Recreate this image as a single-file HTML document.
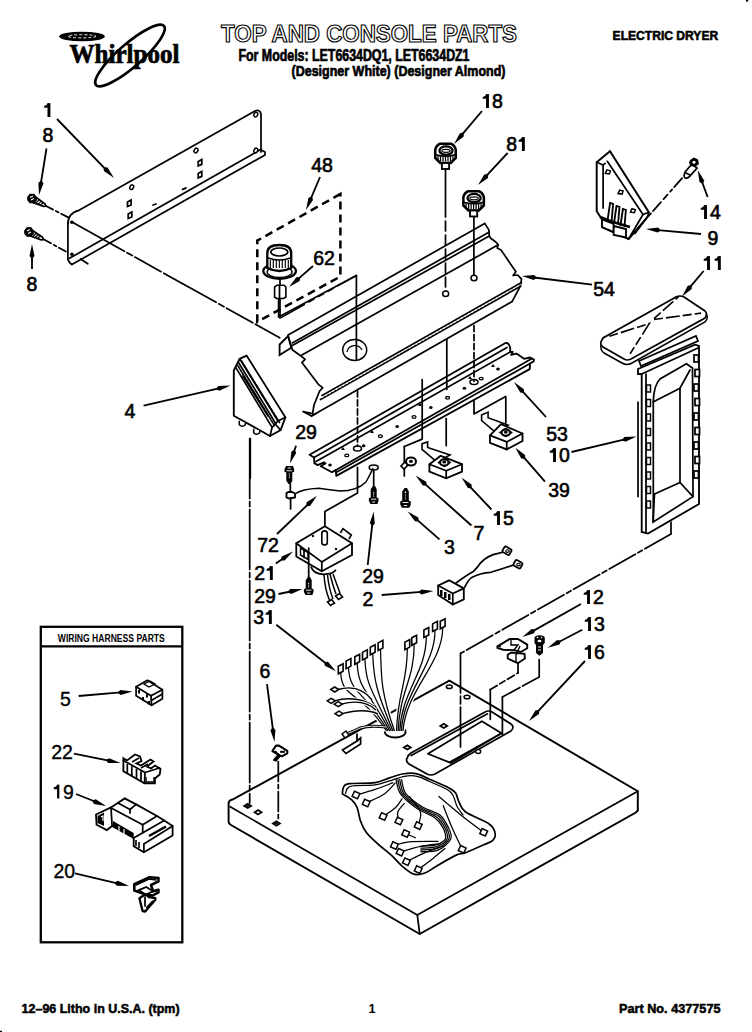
<!DOCTYPE html>
<html><head><meta charset="utf-8">
<style>
html,body{margin:0;padding:0;background:#fff;}
svg{display:block;}
text{font-family:"Liberation Sans",sans-serif;}
.l{font-size:19.5px;font-weight:normal;text-anchor:middle;fill:#000;stroke:#000;stroke-width:0.6;}
.r{stroke-width:0.35;}
.s{stroke:#000;stroke-width:1.72;fill:none;stroke-linecap:round;stroke-linejoin:round;}
.t{stroke:#000;stroke-width:1;fill:none;stroke-linejoin:round;}
.w{stroke:#000;stroke-width:1.3;fill:#fff;stroke-linejoin:round;}
.d{stroke:#000;stroke-width:1.3;fill:none;stroke-dasharray:9 5;}
.dd{stroke:#000;stroke-width:2.2;fill:none;stroke-dasharray:8 7;}
</style></head><body>
<svg width="752" height="1032" viewBox="0 0 752 1032">
<rect width="752" height="1032" fill="#fff"/>
<g id="logo">
  <ellipse cx="82" cy="36.5" rx="22.8" ry="4.8" fill="#000"/>
  <ellipse cx="82" cy="36.3" rx="14" ry="1.6" fill="none" stroke="#fff" stroke-width="0.92" stroke-dasharray="3 2"/>
  <text x="69.5" y="62.5" style="font-family:'Liberation Serif',serif;font-weight:bold;font-size:27px;stroke:#000;stroke-width:0.7" textLength="110" lengthAdjust="spacingAndGlyphs">Whirlpool</text>
  <ellipse cx="130" cy="55.5" rx="45" ry="11.5" transform="rotate(-41 130 55.5)" fill="none" stroke="#000" stroke-width="2.64"/>
</g>
<text x="221" y="42" font-size="23.5" font-weight="bold" fill="#fff" stroke="#000" stroke-width="1.15" textLength="296" lengthAdjust="spacingAndGlyphs">TOP AND CONSOLE PARTS</text>
<text x="238.5" y="61" font-size="16" font-weight="bold" stroke="#000" stroke-width="0.69" textLength="231" lengthAdjust="spacingAndGlyphs">For Models: LET6634DQ1, LET6634DZ1</text>
<text x="291.5" y="75.5" font-size="15" font-weight="bold" stroke="#000" stroke-width="0.69" textLength="214" lengthAdjust="spacingAndGlyphs">(Designer White) (Designer Almond)</text>
<text x="612.6" y="39.8" font-size="13" font-weight="bold" stroke="#000" stroke-width="0.57" textLength="105.6" lengthAdjust="spacingAndGlyphs">ELECTRIC DRYER</text>
<text x="21.6" y="1012.5" font-size="12.8" font-weight="bold" stroke="#000" stroke-width="0.52" textLength="158" lengthAdjust="spacingAndGlyphs">12–96 Litho in U.S.A. (tpm)</text>
<text x="372" y="1012.5" font-size="12.8" font-weight="bold" text-anchor="middle">1</text>
<text x="619" y="1012.5" font-size="12.8" font-weight="bold" stroke="#000" stroke-width="0.52" textLength="101.5" lengthAdjust="spacingAndGlyphs">Part No. 4377575</text>

<rect x="47.48" y="103.10" width="2.9" height="13.9" fill="#000"/>
<path d="M44.18,106.00 Q46.78,105.50 47.78,103.10 L47.78,107.70 L44.18,107.70 Z" fill="#000"/>
<text x="48.00" y="142.0" class="l">8</text>
<text x="32.00" y="291.0" class="l">8</text>
<text x="316.58" y="172.0" class="l">4</text>
<text x="327.42" y="172.0" class="l">8</text>
<text x="318.58" y="265.0" class="l">6</text>
<text x="329.42" y="265.0" class="l">2</text>
<rect x="486.06" y="94.10" width="2.9" height="13.9" fill="#000"/>
<path d="M482.76,97.00 Q485.36,96.50 486.36,94.10 L486.36,98.70 L482.76,98.70 Z" fill="#000"/>
<text x="497.42" y="108.0" class="l">8</text>
<text x="511.58" y="151.0" class="l">8</text>
<rect x="521.90" y="137.10" width="2.9" height="13.9" fill="#000"/>
<path d="M518.60,140.00 Q521.20,139.50 522.20,137.10 L522.20,141.70 L518.60,141.70 Z" fill="#000"/>
<rect x="704.06" y="205.10" width="2.9" height="13.9" fill="#000"/>
<path d="M700.76,208.00 Q703.36,207.50 704.36,205.10 L704.36,209.70 L700.76,209.70 Z" fill="#000"/>
<text x="715.42" y="219.0" class="l">4</text>
<text x="713.00" y="245.0" class="l">9</text>
<rect x="707.06" y="256.10" width="2.9" height="13.9" fill="#000"/>
<path d="M703.76,259.00 Q706.36,258.50 707.36,256.10 L707.36,260.70 L703.76,260.70 Z" fill="#000"/>
<rect x="717.90" y="256.10" width="2.9" height="13.9" fill="#000"/>
<path d="M714.60,259.00 Q717.20,258.50 718.20,256.10 L718.20,260.70 L714.60,260.70 Z" fill="#000"/>
<text x="598.58" y="296.0" class="l">5</text>
<text x="609.42" y="296.0" class="l">4</text>
<text x="130.00" y="418.0" class="l">4</text>
<text x="300.58" y="439.0" class="l">2</text>
<text x="311.42" y="439.0" class="l">9</text>
<text x="551.58" y="441.0" class="l">5</text>
<text x="562.42" y="441.0" class="l">3</text>
<rect x="553.06" y="448.10" width="2.9" height="13.9" fill="#000"/>
<path d="M549.76,451.00 Q552.36,450.50 553.36,448.10 L553.36,452.70 L549.76,452.70 Z" fill="#000"/>
<text x="564.42" y="462.0" class="l">0</text>
<text x="553.58" y="497.0" class="l">3</text>
<text x="564.42" y="497.0" class="l">9</text>
<rect x="497.06" y="511.10" width="2.9" height="13.9" fill="#000"/>
<path d="M493.76,514.00 Q496.36,513.50 497.36,511.10 L497.36,515.70 L493.76,515.70 Z" fill="#000"/>
<text x="508.42" y="525.0" class="l">5</text>
<text x="479.00" y="540.0" class="l">7</text>
<text x="449.50" y="554.0" class="l">3</text>
<text x="262.58" y="552.0" class="l">7</text>
<text x="273.42" y="552.0" class="l">2</text>
<text x="259.58" y="580.0" class="l">2</text>
<rect x="269.90" y="566.10" width="2.9" height="13.9" fill="#000"/>
<path d="M266.60,569.00 Q269.20,568.50 270.20,566.10 L270.20,570.70 L266.60,570.70 Z" fill="#000"/>
<text x="259.58" y="602.5" class="l">2</text>
<text x="270.42" y="602.5" class="l">9</text>
<text x="367.58" y="583.0" class="l">2</text>
<text x="378.42" y="583.0" class="l">9</text>
<text x="368.00" y="606.0" class="l">2</text>
<text x="258.58" y="624.0" class="l">3</text>
<rect x="268.90" y="610.10" width="2.9" height="13.9" fill="#000"/>
<path d="M265.60,613.00 Q268.20,612.50 269.20,610.10 L269.20,614.70 L265.60,614.70 Z" fill="#000"/>
<rect x="587.06" y="590.10" width="2.9" height="13.9" fill="#000"/>
<path d="M583.76,593.00 Q586.36,592.50 587.36,590.10 L587.36,594.70 L583.76,594.70 Z" fill="#000"/>
<text x="598.42" y="604.0" class="l">2</text>
<rect x="588.06" y="617.10" width="2.9" height="13.9" fill="#000"/>
<path d="M584.76,620.00 Q587.36,619.50 588.36,617.10 L588.36,621.70 L584.76,621.70 Z" fill="#000"/>
<text x="599.42" y="631.0" class="l">3</text>
<rect x="588.06" y="645.10" width="2.9" height="13.9" fill="#000"/>
<path d="M584.76,648.00 Q587.36,647.50 588.36,645.10 L588.36,649.70 L584.76,649.70 Z" fill="#000"/>
<text x="599.42" y="659.0" class="l">6</text>
<text x="265.00" y="678.0" class="l">6</text>
<text x="65.50" y="706.0" class="l r">5</text>
<text x="56.58" y="759.0" class="l r">2</text>
<text x="67.42" y="759.0" class="l r">2</text>
<rect x="57.06" y="784.60" width="2.3" height="13.9" fill="#000"/>
<path d="M53.76,787.50 Q56.36,787.00 57.36,784.60 L57.36,789.20 L53.76,789.20 Z" fill="#000"/>
<text x="68.42" y="798.5" class="l r">9</text>
<text x="58.88" y="877.5" class="l r">2</text>
<text x="69.72" y="877.5" class="l r">0</text>
<line x1="57.0" y1="119.0" x2="105.7" y2="169.4" stroke="#000" stroke-width="1.84"/>
<path d="M114.0,178.0 L103.9,171.1 L103.6,167.2 L107.5,167.6Z" fill="#000"/>
<line x1="46.5" y1="148.5" x2="40.9" y2="183.2" stroke="#000" stroke-width="1.84"/>
<path d="M39.0,195.0 L38.4,182.8 L41.4,180.2 L43.4,183.6Z" fill="#000"/>
<line x1="32.0" y1="269.0" x2="32.0" y2="256.0" stroke="#000" stroke-width="1.84"/>
<path d="M32.0,244.0 L34.5,256.0 L32.0,259.0 L29.5,256.0Z" fill="#000"/>
<line x1="320.0" y1="177.0" x2="310.7" y2="199.0" stroke="#000" stroke-width="1.84"/>
<path d="M306.0,210.0 L308.4,198.0 L311.9,196.2 L313.0,199.9Z" fill="#000"/>
<line x1="313.0" y1="266.0" x2="298.0" y2="279.1" stroke="#000" stroke-width="1.84"/>
<path d="M289.0,287.0 L296.4,277.2 L300.3,277.1 L299.7,281.0Z" fill="#000"/>
<line x1="482.0" y1="111.0" x2="461.8" y2="134.8" stroke="#000" stroke-width="1.84"/>
<path d="M454.0,144.0 L459.9,133.2 L463.7,132.6 L463.7,136.5Z" fill="#000"/>
<line x1="507.6" y1="153.0" x2="486.1" y2="176.2" stroke="#000" stroke-width="1.84"/>
<path d="M478.0,185.0 L484.3,174.5 L488.2,174.0 L488.0,177.9Z" fill="#000"/>
<line x1="707.6" y1="197.0" x2="701.8" y2="181.3" stroke="#000" stroke-width="1.84"/>
<path d="M697.7,170.0 L704.2,180.4 L702.9,184.1 L699.5,182.1Z" fill="#000"/>
<line x1="701.0" y1="234.0" x2="658.0" y2="230.1" stroke="#000" stroke-width="1.84"/>
<path d="M646.0,229.0 L658.2,227.6 L660.9,230.4 L657.7,232.6Z" fill="#000"/>
<line x1="703.6" y1="271.0" x2="689.8" y2="287.3" stroke="#000" stroke-width="1.84"/>
<path d="M682.0,296.5 L687.8,285.7 L691.7,285.1 L691.7,289.0Z" fill="#000"/>
<line x1="592.0" y1="284.6" x2="533.9" y2="277.5" stroke="#000" stroke-width="1.84"/>
<path d="M522.0,276.0 L534.2,275.0 L536.9,277.8 L533.6,279.9Z" fill="#000"/>
<line x1="143.6" y1="405.6" x2="218.8" y2="388.3" stroke="#000" stroke-width="1.84"/>
<path d="M230.5,385.6 L219.4,390.7 L215.9,389.0 L218.2,385.9Z" fill="#000"/>
<line x1="296.0" y1="445.7" x2="293.8" y2="452.2" stroke="#000" stroke-width="1.84"/>
<path d="M290.0,463.6 L291.4,451.4 L294.8,449.4 L296.2,453.0Z" fill="#000"/>
<line x1="546.0" y1="417.0" x2="522.1" y2="390.9" stroke="#000" stroke-width="1.84"/>
<path d="M514.0,382.0 L523.9,389.2 L524.1,393.1 L520.3,392.5Z" fill="#000"/>
<line x1="571.5" y1="452.0" x2="624.9" y2="439.4" stroke="#000" stroke-width="1.84"/>
<path d="M636.6,436.6 L625.5,441.8 L622.0,440.1 L624.3,436.9Z" fill="#000"/>
<line x1="545.0" y1="481.6" x2="523.2" y2="456.7" stroke="#000" stroke-width="1.84"/>
<path d="M515.3,447.7 L525.1,455.1 L525.2,459.0 L521.3,458.4Z" fill="#000"/>
<line x1="491.4" y1="509.5" x2="469.7" y2="486.4" stroke="#000" stroke-width="1.84"/>
<path d="M461.5,477.6 L471.5,484.6 L471.8,488.5 L467.9,488.1Z" fill="#000"/>
<line x1="471.4" y1="525.5" x2="424.5" y2="483.6" stroke="#000" stroke-width="1.84"/>
<path d="M415.6,475.6 L426.2,481.7 L426.8,485.6 L422.9,485.5Z" fill="#000"/>
<line x1="439.5" y1="539.4" x2="416.6" y2="519.4" stroke="#000" stroke-width="1.84"/>
<path d="M407.6,511.5 L418.3,517.5 L418.9,521.4 L415.0,521.3Z" fill="#000"/>
<line x1="277.0" y1="534.0" x2="308.3" y2="504.1" stroke="#000" stroke-width="1.84"/>
<path d="M317.0,495.8 L310.0,505.9 L306.2,506.2 L306.6,502.3Z" fill="#000"/>
<line x1="275.8" y1="563.6" x2="283.2" y2="558.5" stroke="#000" stroke-width="1.84"/>
<path d="M293.0,551.6 L284.6,560.5 L280.7,560.2 L281.7,556.4Z" fill="#000"/>
<line x1="278.5" y1="594.0" x2="290.7" y2="591.5" stroke="#000" stroke-width="1.84"/>
<path d="M302.4,589.0 L291.2,593.9 L287.7,592.1 L290.1,589.0Z" fill="#000"/>
<line x1="367.7" y1="565.0" x2="372.4" y2="523.4" stroke="#000" stroke-width="1.84"/>
<path d="M373.7,511.5 L374.8,523.7 L372.0,526.4 L369.9,523.1Z" fill="#000"/>
<line x1="381.7" y1="595.0" x2="421.5" y2="591.9" stroke="#000" stroke-width="1.84"/>
<path d="M433.5,591.0 L421.7,594.4 L418.5,592.2 L421.3,589.4Z" fill="#000"/>
<line x1="276.3" y1="624.7" x2="326.4" y2="663.8" stroke="#000" stroke-width="1.84"/>
<path d="M335.9,671.2 L324.9,665.8 L324.1,662.0 L328.0,661.8Z" fill="#000"/>
<line x1="581.0" y1="604.0" x2="532.9" y2="631.1" stroke="#000" stroke-width="1.84"/>
<path d="M522.4,637.0 L531.6,628.9 L535.5,629.6 L534.1,633.3Z" fill="#000"/>
<line x1="582.3" y1="629.7" x2="558.3" y2="642.2" stroke="#000" stroke-width="1.84"/>
<path d="M547.7,647.8 L557.2,640.0 L561.0,640.8 L559.5,644.5Z" fill="#000"/>
<line x1="585.0" y1="661.0" x2="537.2" y2="712.2" stroke="#000" stroke-width="1.84"/>
<path d="M529.0,721.0 L535.4,710.5 L539.2,710.0 L539.0,713.9Z" fill="#000"/>
<line x1="267.0" y1="684.2" x2="273.0" y2="730.1" stroke="#000" stroke-width="1.84"/>
<path d="M274.5,742.0 L270.5,730.4 L272.6,727.1 L275.4,729.8Z" fill="#000"/>
<line x1="78.6" y1="696.0" x2="120.5" y2="692.4" stroke="#000" stroke-width="1.84"/>
<path d="M132.5,691.4 L120.8,694.9 L117.6,692.7 L120.3,689.9Z" fill="#000"/>
<line x1="73.9" y1="753.6" x2="108.7" y2="760.6" stroke="#000" stroke-width="1.84"/>
<path d="M120.5,763.0 L108.2,763.1 L105.8,760.0 L109.2,758.2Z" fill="#000"/>
<line x1="76.0" y1="794.0" x2="94.9" y2="801.5" stroke="#000" stroke-width="1.84"/>
<path d="M106.0,806.0 L93.9,803.9 L92.1,800.4 L95.8,799.2Z" fill="#000"/>
<line x1="75.0" y1="873.4" x2="117.3" y2="883.3" stroke="#000" stroke-width="1.84"/>
<path d="M129.0,886.0 L116.7,885.7 L114.4,882.6 L117.9,880.8Z" fill="#000"/>
<rect x="40.8" y="626.8" width="141.5" height="315.5" fill="none" stroke="#000" stroke-width="2.30"/>
<line x1="40.8" y1="646.4" x2="182.3" y2="646.4" stroke="#000" stroke-width="2.30"/>
<text x="57.8" y="642.3" font-size="10.5" font-weight="bold" textLength="107" lengthAdjust="spacingAndGlyphs">WIRING HARNESS PARTS</text>
<path d="M67.9,224 Q67.9,213 79,210.3 L255,111 Q260,109 261,114 L261,152" class="s"/>
<path d="M67.9,222.0 L67.9,259.8 L70.0,263.0 L71.9,264.6 L265.0,155.0 L265.0,152.0 L261.0,150.0" class="s" />
<path d="M69.5,258.3 L261.0,149.3" class="s" />
<circle cx="71.9" cy="222.3" r="1.8" fill="#000"/>
<circle cx="71.9" cy="254.2" r="1.8" fill="#000"/>
<path d="M33.2,202.6 L43.5,206.4 L46.0,206.0 L44.9,203.7 L36.1,197.3Z" fill="#fff" stroke="#000" stroke-width="1.72"/>
<line x1="35.6" y1="203.3" x2="39.4" y2="199.6" stroke="#000" stroke-width="1.26"/>
<line x1="38.1" y1="204.1" x2="41.4" y2="201.1" stroke="#000" stroke-width="1.26"/>
<line x1="40.5" y1="204.9" x2="43.4" y2="202.7" stroke="#000" stroke-width="1.26"/>
<path d="M27.8,197.0 L30.0,194.3 L34.0,194.3 L36.2,197.5 L36.2,200.5 L33.5,202.7 L30.0,202.7 L27.8,200.0Z" fill="#000" stroke="#000" stroke-width="1.15"/>
<path d="M30.0,197.5 L33.0,196.0 M31.0,200.0 L34.0,198.5" stroke="#fff" stroke-width="1.03"/>
<path d="M30.3,236.0 L41.0,239.9 L43.5,239.5 L42.4,237.2 L33.0,230.7Z" fill="#fff" stroke="#000" stroke-width="1.72"/>
<line x1="32.7" y1="236.8" x2="36.4" y2="233.0" stroke="#000" stroke-width="1.26"/>
<line x1="35.1" y1="237.5" x2="38.4" y2="234.5" stroke="#000" stroke-width="1.26"/>
<line x1="37.6" y1="238.3" x2="40.4" y2="236.0" stroke="#000" stroke-width="1.26"/>
<path d="M24.8,230.5 L27.0,227.8 L31.0,227.8 L33.2,231.0 L33.2,234.0 L30.5,236.2 L27.0,236.2 L24.8,233.5Z" fill="#000" stroke="#000" stroke-width="1.15"/>
<path d="M27.0,231.0 L30.0,229.5 M28.0,233.5 L31.0,232.0" stroke="#fff" stroke-width="1.03"/>
<path d="M46,206 L69.5,218" class="s" stroke-dasharray="8 3 3 3"/>
<path d="M44,239.5 L66.3,251.8" class="s" stroke-dasharray="8 3 3 3"/>
<path d="M72,222 L279.7,337.8" class="s" stroke-dasharray="60 3 6 3 30 3"/>
<path d="M80.6,259.0 L87.8,263.8" class="s" />
<ellipse cx="131.7" cy="187.2" rx="1.8" ry="2.4" transform="rotate(30 131.7 187.2)" fill="#fff" stroke="#000" stroke-width="1.49"/>
<ellipse cx="196" cy="150.5" rx="1.8" ry="2.4" transform="rotate(30 196 150.5)" fill="#fff" stroke="#000" stroke-width="1.49"/>
<ellipse cx="255.8" cy="114.6" rx="1.8" ry="2.4" transform="rotate(30 255.8 114.6)" fill="#fff" stroke="#000" stroke-width="1.49"/>
<ellipse cx="255.8" cy="150.5" rx="1.8" ry="2.4" transform="rotate(30 255.8 150.5)" fill="#fff" stroke="#000" stroke-width="1.49"/>
<path d="M127.50000000000001,202 L131.10000000000002,200 L131.10000000000002,205 L127.50000000000001,206.5 Z" fill="#fff" stroke="#000" stroke-width="1.72"/>
<path d="M128.2,214 L131.8,212 L131.8,217 L128.2,218.5 Z" fill="#fff" stroke="#000" stroke-width="1.72"/>
<path d="M198.2,161.4 L201.8,159.4 L201.8,164.4 L198.2,165.9 Z" fill="#fff" stroke="#000" stroke-width="1.72"/>
<path d="M198.2,173.4 L201.8,171.4 L201.8,176.4 L198.2,177.9 Z" fill="#fff" stroke="#000" stroke-width="1.72"/>
<path d="M153.0,205.0 L156.0,204.0" class="s" />
<path d="M182.5,189.5 L185.0,188.5" class="s" />
<path d="M183.0,189.0 L186.0,188.0" class="s" />
<path d="M435.25,149.8 Q436.25,145.3 440.25,143.8 L450.75,143.8 Q454.75,145.3 455.75,149.8 L455.75,158.0 L450.75,163.0 L440.25,163.0 L435.25,158.0Z" fill="#fff" stroke="#000" stroke-width="2.53"/>
<ellipse cx="446.0" cy="150.60000000000002" rx="6.6" ry="4.2" fill="none" stroke="#000" stroke-width="2.30"/>
<ellipse cx="446.0" cy="150.8" rx="4.2" ry="1.5" fill="none" stroke="#000" stroke-width="1.15"/>
<path d="M435.75,154.8 Q445.5,157.3 455.25,154.8" fill="none" stroke="#000" stroke-width="1.84"/>
<line x1="438.0" y1="156.3" x2="438.0" y2="161.5" stroke="#000" stroke-width="1.26"/>
<line x1="440.5" y1="156.3" x2="440.5" y2="161.5" stroke="#000" stroke-width="1.26"/>
<line x1="443.0" y1="156.3" x2="443.0" y2="161.5" stroke="#000" stroke-width="1.26"/>
<line x1="445.5" y1="156.3" x2="445.5" y2="161.5" stroke="#000" stroke-width="1.26"/>
<line x1="448.0" y1="156.3" x2="448.0" y2="161.5" stroke="#000" stroke-width="1.26"/>
<line x1="450.5" y1="156.3" x2="450.5" y2="161.5" stroke="#000" stroke-width="1.26"/>
<line x1="453.0" y1="156.3" x2="453.0" y2="161.5" stroke="#000" stroke-width="1.26"/>
<rect x="441.9" y="163.0" width="7.2" height="6" fill="#fff" stroke="#000" stroke-width="1.84"/>
<path d="M463.35,197.3 Q464.35,192.8 468.35,191.3 L478.85,191.3 Q482.85,192.8 483.85,197.3 L483.85,205.5 L478.85,210.5 L468.35,210.5 L463.35,205.5Z" fill="#fff" stroke="#000" stroke-width="2.53"/>
<ellipse cx="474.1" cy="198.10000000000002" rx="6.6" ry="4.2" fill="none" stroke="#000" stroke-width="2.30"/>
<ellipse cx="474.1" cy="198.3" rx="4.2" ry="1.5" fill="none" stroke="#000" stroke-width="1.15"/>
<path d="M463.85,202.3 Q473.6,204.8 483.35,202.3" fill="none" stroke="#000" stroke-width="1.84"/>
<line x1="466.1" y1="203.8" x2="466.1" y2="209.0" stroke="#000" stroke-width="1.26"/>
<line x1="468.6" y1="203.8" x2="468.6" y2="209.0" stroke="#000" stroke-width="1.26"/>
<line x1="471.1" y1="203.8" x2="471.1" y2="209.0" stroke="#000" stroke-width="1.26"/>
<line x1="473.6" y1="203.8" x2="473.6" y2="209.0" stroke="#000" stroke-width="1.26"/>
<line x1="476.1" y1="203.8" x2="476.1" y2="209.0" stroke="#000" stroke-width="1.26"/>
<line x1="478.6" y1="203.8" x2="478.6" y2="209.0" stroke="#000" stroke-width="1.26"/>
<line x1="481.1" y1="203.8" x2="481.1" y2="209.0" stroke="#000" stroke-width="1.26"/>
<rect x="470.0" y="210.5" width="7.2" height="6" fill="#fff" stroke="#000" stroke-width="1.84"/>
<path d="M445.5,169.0 L445.5,217.0" class="s" />
<path d="M445.5,221.0 L445.5,291.3" class="s" stroke-dasharray="10 4" stroke-width="1.15"/>
<path d="M473.9,217.0 L473.9,275.5" class="s" stroke-width="2.07"/>
<path d="M279.6,344.5 L288.1,336 L291.3,347.7 L279.6,355.1 Z" fill="#fff" stroke="#000" stroke-width="1.84"/>
<path d="M288.1,336.0 L292.3,349.8 L301.9,356.7 L305.1,359.4 L301.9,362.6 L318.9,384.9 L322.7,387.6 L319.5,391.3 L314.0,405.0 L312.6,413.6 L303.0,411.5 L311.5,416.0 L316.0,413.5" class="s" stroke-width="1.84"/>
<path d="M288.1,335.0 L484.7,223.4" class="s" stroke-width="1.72"/>
<path d="M292.3,342.9 L488.9,232.2" class="s" />
<path d="M292.3,345.5 L489.3,236.0" class="s" />
<path d="M301.9,355.1 L498.2,244.8" class="s" stroke-width="1.72"/>
<path d="M484.7,223.4 L488.9,229.9 L489.3,236.0 L490.7,238.3 L495.8,242.0 L498.2,244.8 L497.2,248.0 L501.0,249.9 L515.9,271.8 L513.1,275.5 L517.7,275.0 L521.5,279.2 L520.5,285.8 L512.1,301.6" class="s" stroke-width="1.84"/>
<path d="M322.1,395.5 L521.5,282.5" class="s" stroke-width="1.84"/>
<path d="M320.5,399.5 L520.5,286.2" class="s" stroke-width="1.84"/>
<path d="M322,397.5 L521,284.4" stroke="#fff" stroke-width="1.15" stroke-dasharray="1.5 2.5"/>
<path d="M311.5,416.0 L512.1,301.6" class="s" stroke-width="1.72"/>
<ellipse cx="445.7" cy="293.8" rx="3" ry="2.8" fill="#fff" stroke="#000" stroke-width="1.49"/>
<ellipse cx="474" cy="278" rx="3" ry="2.8" fill="#fff" stroke="#000" stroke-width="1.49"/>
<ellipse cx="354.7" cy="349.9" rx="12" ry="10.5" fill="#fff" stroke="#000" stroke-width="1.49"/>
<path d="M347,352 A8,8 0 0 1 362,350" fill="none" stroke="#000" stroke-width="1.26"/>
<path d="M356.4,275.5 L356.4,360.0" class="s" stroke-width="1.15"/>
<path d="M356.4,275.5 L278.6,317.0 L278.6,298.0" class="s" />
<path d="M340.4,194 L257.3,240.6 L257.3,321.8 L340.4,276.5 Z" fill="none" stroke="#000" stroke-width="2.53" stroke-dasharray="8 5"/>
<ellipse cx="279.6" cy="271" rx="16.3" ry="7.8" fill="#fff" stroke="#000" stroke-width="2.30"/>
<ellipse cx="279.6" cy="272" rx="12.5" ry="5.5" fill="none" stroke="#000" stroke-width="1.38"/>
<path d="M267.3,268 L267.3,253 Q267.3,245 279.3,245 Q291.2,245 291.2,253 L291.2,268 Q279.3,274 267.3,268Z" fill="#fff" stroke="#000" stroke-width="2.30"/>
<ellipse cx="279.3" cy="252" rx="8.5" ry="4" fill="none" stroke="#000" stroke-width="1.72"/>
<path d="M268,258 Q279.3,262 290.5,258" fill="none" stroke="#000" stroke-width="1.49"/>
<line x1="270.3" y1="260" x2="270.3" y2="268" stroke="#000" stroke-width="1.15"/>
<line x1="273.3" y1="260" x2="273.3" y2="268" stroke="#000" stroke-width="1.15"/>
<line x1="276.3" y1="260" x2="276.3" y2="268" stroke="#000" stroke-width="1.15"/>
<line x1="279.3" y1="260" x2="279.3" y2="268" stroke="#000" stroke-width="1.15"/>
<line x1="282.3" y1="260" x2="282.3" y2="268" stroke="#000" stroke-width="1.15"/>
<line x1="285.3" y1="260" x2="285.3" y2="268" stroke="#000" stroke-width="1.15"/>
<line x1="288.3" y1="260" x2="288.3" y2="268" stroke="#000" stroke-width="1.15"/>
<path d="M280.0,279.5 L280.0,318.0" class="s" />
<path d="M274.6,287 L277,285.2 L284,285.2 L285.9,287 L285.9,297 L283.5,298.5 L276.5,298.5 L274.6,297Z" fill="#fff" stroke="#000" stroke-width="1.61"/>
<path d="M279.5,286.0 L279.5,298.0" class="s" stroke-width="1.15"/>
<path d="M356.4,275.5 L280.6,317.8" fill="none" stroke="#000" stroke-width="1.49" stroke-dasharray="22 4 7 4 7 4 7 4 40"/>
<path d="M233.8,370.5 L239.7,358.8 L246.6,355.6 L285.4,417.3 L280.6,430.1 L270,436 L233.8,415.7 Z" fill="#fff" stroke="#000" stroke-width="1.84"/>
<path d="M239.7,358.8 L278.0,421.0 L285.4,417.3" class="s" />
<path d="M236.0,367.9 L272.1,427.4 L270.0,436.0" class="s" />
<path d="M272.1,427.4 L278.0,421.0" class="s" />
<path d="M238.5,362.5 L276.0,424.0" class="s" stroke-width="1.38"/>
<path d="M241.5,361.0 L279.5,422.5" class="s" stroke-width="1.26" stroke-dasharray="2.5 1.5"/>
<path d="M238.0,366.0 L274.5,425.5" class="s" stroke-width="1.26" stroke-dasharray="2.5 1.5"/>
<path d="M243.0,376.0 L268.0,416.0" class="s" stroke-width="1.26"/>
<path d="M276.0,425.0 L280.6,430.1" class="s" stroke-width="1.15"/>
<path d="M239.3,420.7 L239.3,424.7 Q242.3,427.7 245.3,424.7 L245.3,422.7" fill="#fff" stroke="#000" stroke-width="1.49"/>
<path d="M253.7,428.7 L253.7,432.7 Q256.7,435.7 259.7,432.7 L259.7,430.7" fill="#fff" stroke="#000" stroke-width="1.49"/>
<path d="M250.3,438.6 L250.3,478.0" class="s" stroke-width="1.49"/>
<path d="M309.6,454.7 L505,343.2 Q509,342 510.2,348 L510.2,351.9 L512.8,351.9 L511.1,354.9 L516.3,353.6 L524.1,358.8 L530.1,357.5 L534,359.6 L533.6,361.4 L530.1,363.5 L529.7,369.1 L336.3,475.9 L335.9,469.9 L331.9,472.3 L320.8,466.3 L325.5,463.5 L324,462.3 L317.6,465.1 L314.4,463.1 L314,457.5 Z" fill="#fff" stroke="#000" stroke-width="1.84" stroke-linejoin="round"/>
<path d="M314.0,457.5 L507.0,347.5" class="s" />
<path d="M316.0,461.5 L510.2,351.9" class="s" />
<path d="M335.9,469.9 L531.9,358.6" class="s" />
<path d="M336.0,472.6 L530.1,363.5" class="s" stroke-width="1.38"/>
<ellipse cx="330.0" cy="465.0" rx="1.8" ry="1.5" fill="#000"/>
<ellipse cx="346.8" cy="455.4" rx="2" ry="1.3" fill="none" stroke="#000" stroke-width="1.26"/>
<ellipse cx="363.6" cy="445.8" rx="1.8" ry="1.5" fill="#000"/>
<ellipse cx="380.4" cy="436.2" rx="2" ry="1.3" fill="none" stroke="#000" stroke-width="1.26"/>
<ellipse cx="397.2" cy="426.6" rx="1.8" ry="1.5" fill="#000"/>
<ellipse cx="414.0" cy="417.0" rx="2" ry="1.3" fill="none" stroke="#000" stroke-width="1.26"/>
<ellipse cx="430.8" cy="407.4" rx="1.8" ry="1.5" fill="#000"/>
<ellipse cx="447.6" cy="397.8" rx="2" ry="1.3" fill="none" stroke="#000" stroke-width="1.26"/>
<ellipse cx="464.4" cy="388.2" rx="1.8" ry="1.5" fill="#000"/>
<ellipse cx="481.2" cy="378.6" rx="2" ry="1.3" fill="none" stroke="#000" stroke-width="1.26"/>
<ellipse cx="498.0" cy="369.0" rx="1.8" ry="1.5" fill="#000"/>
<path d="M341,450 L343,447 L345,450Z" fill="#000"/>
<path d="M370,433 L372,430 L374,433Z" fill="#000"/>
<path d="M418,406 L420,403 L422,406Z" fill="#000"/>
<path d="M468,379 L470,376 L472,379Z" fill="#000"/>
<path d="M491,367 L493,364 L495,367Z" fill="#000"/>
<ellipse cx="357.5" cy="448.5" rx="4" ry="2.5" fill="#fff" stroke="#000" stroke-width="1.49"/>
<ellipse cx="474" cy="382" rx="4" ry="2.5" fill="#fff" stroke="#000" stroke-width="1.49"/>
<path d="M357.5,390.9 L357.5,446.0" class="s" stroke-dasharray="6 3" stroke-width="1.38"/>
<path d="M446.8,339.5 L446.8,389.3" class="s" stroke-width="1.15"/>
<path d="M474.0,325.6 L474.0,381.3" class="s" stroke-dasharray="6 3" stroke-width="1.84"/>
<path d="M422.2,379.7 L422.2,439.1 L404.3,446.5" class="s" />
<path d="M446.2,418.6 L446.2,445.6" class="s" stroke-width="1.26"/>
<path d="M474.0,400.4 L474.0,414.0 L499.3,400.0 L505.8,396.5 L505.8,423.0" class="s" />
<path d="M422,443.8 L427.6,441.9 L427.6,447.5 L450,455 L437,462 L422,449.3Z" fill="#fff" stroke="#000" stroke-width="1.61"/>
<path d="M429.4,464.2 L440.6,455.9 L462,464.2 L462,471.7 L446.2,478.3 L429.4,471.7Z" fill="#fff" stroke="#000" stroke-width="1.84"/>
<path d="M429.4,464.2 L446.2,470.8 L462.0,464.2" class="s" stroke-width="1.84"/>
<path d="M446.2,470.8 L446.2,478.3" class="s" stroke-width="1.84"/>
<path d="M438.3,462.4 L444.3,458.4 L450.3,462.4 L444.3,466.4Z" fill="none" stroke="#000" stroke-width="1.26"/>
<ellipse cx="444.3" cy="462.4" rx="4.2" ry="3.2" fill="#fff" stroke="#000" stroke-width="2.07"/>
<ellipse cx="444.3" cy="461.9" rx="2" ry="1.6" fill="#000"/>
<path d="M481.6,414.9 L488.1,412.1 L488.1,417.7 L508,425 L494,431 L481.6,420.5Z" fill="#fff" stroke="#000" stroke-width="1.61"/>
<path d="M490,435.4 L501.1,424.2 L522.5,433.5 L522.5,441.0 L506.7,449.4 L490,442.9Z" fill="#fff" stroke="#000" stroke-width="1.84"/>
<path d="M490.0,435.4 L506.7,441.9 L522.5,433.5" class="s" stroke-width="1.84"/>
<path d="M506.7,441.9 L506.7,449.4" class="s" stroke-width="1.84"/>
<path d="M499.8,432.6 L505.8,428.6 L511.8,432.6 L505.8,436.6Z" fill="none" stroke="#000" stroke-width="1.26"/>
<ellipse cx="505.8" cy="432.6" rx="4.2" ry="3.2" fill="#fff" stroke="#000" stroke-width="2.07"/>
<ellipse cx="505.8" cy="432.1" rx="2" ry="1.6" fill="#000"/>
<path d="M404.3,446.5 L404.3,476.0" class="s" stroke-width="1.49"/>
<path d="M401,466 L405,462 L408,465 L404,469 Z" fill="#fff" stroke="#000" stroke-width="1.72"/>
<ellipse cx="411" cy="461.5" rx="5" ry="4" fill="#fff" stroke="#000" stroke-width="2.07"/>
<ellipse cx="411" cy="461.3" rx="2" ry="1.6" fill="#000"/>
<path d="M324.9,526.0 L324.9,511.5 L357.5,493.0 L357.5,467.4" class="s" />
<path d="M296.3,543.3 L324.9,526.3 L352,543.3 L352,555 L321.8,571.2 L296.3,556.5 Z" fill="#fff" stroke="#000" stroke-width="1.84"/>
<path d="M296.3,543.3 L321.8,561.9 L352.0,543.3" class="s" />
<path d="M321.8,561.9 L321.8,571.2" class="s" />
<path d="M300.5,548 L308,552.5 L308,559.5 L300.5,555 Z" fill="none" stroke="#000" stroke-width="1.49"/>
<path d="M304.0,550.0 L304.0,557.5" class="s" stroke-width="1.26"/>
<rect x="321.8" y="530.9" width="5.5" height="14" rx="2.7" fill="#fff" stroke="#000" stroke-width="1.61"/>
<path d="M340.4,533 L343,528.6 L351.3,535 L349,539" fill="none" stroke="#000" stroke-width="1.61"/>
<circle cx="313" cy="536" r="1.2" fill="#000"/><circle cx="336" cy="549" r="1.2" fill="#000"/>
<path d="M311,566.5 Q313,574 323.5,574.3 Q334,574 335.8,569.6" fill="none" stroke="#000" stroke-width="1.72"/>
<path d="M308.7,548.0 L308.7,577.0" class="s" />
<path d="M324,575 Q325,590 329.5,600" fill="none" stroke="#000" stroke-width="1.49"/>
<path d="M327.5,575 Q329,589 333,599" fill="none" stroke="#000" stroke-width="1.49"/>
<path d="M330,574 Q333,586 336,594" fill="none" stroke="#000" stroke-width="1.49"/>
<path d="M333,574 Q337,585 340,593" fill="none" stroke="#000" stroke-width="1.49"/>
<path d="M327.5,602 L331.5,599.5 L334.5,603 L330.5,605.5Z" fill="#fff" stroke="#000" stroke-width="1.61"/>
<path d="M335.5,596 L339.5,593.5 L342.5,597 L338.5,599.5Z" fill="#fff" stroke="#000" stroke-width="1.61"/>
<path d="M286.3,480.8 L288.5,484.0 L290.7,484.0 L292.3,480.8 L292.3,472.6 L294.1,471.7 L294.1,468.9 L293.0,466.0 L286.1,466.0 L284.5,468.9 L284.5,471.7 L286.3,472.6Z" fill="#000"/>
<circle cx="289.3" cy="477.6" r="0.6" fill="#fff"/>
<circle cx="289.3" cy="475.8" r="0.6" fill="#fff"/>
<circle cx="289.3" cy="473.9" r="0.6" fill="#fff"/>
<path d="M286.6,470.8 L292.0,470.8" stroke="#fff" stroke-width="0.92"/>
<path d="M287.7,468.0 L290.9,468.0" stroke="#fff" stroke-width="0.92"/>
<path d="M370.7,489.2 L372.9,486.0 L375.1,486.0 L376.7,489.2 L376.7,497.4 L378.5,498.3 L378.5,501.1 L377.4,504.0 L370.5,504.0 L368.9,501.1 L368.9,498.3 L370.7,497.4Z" fill="#000"/>
<circle cx="373.7" cy="492.4" r="0.6" fill="#fff"/>
<circle cx="373.7" cy="494.2" r="0.6" fill="#fff"/>
<circle cx="373.7" cy="496.1" r="0.6" fill="#fff"/>
<path d="M371.0,499.2 L376.4,499.2" stroke="#fff" stroke-width="0.92"/>
<path d="M372.1,502.0 L375.3,502.0" stroke="#fff" stroke-width="0.92"/>
<path d="M305.7,580.2 L307.9,577.0 L310.1,577.0 L311.7,580.2 L311.7,588.4 L313.5,589.3 L313.5,592.1 L312.4,595.0 L305.5,595.0 L303.9,592.1 L303.9,589.3 L305.7,588.4Z" fill="#000"/>
<circle cx="308.7" cy="583.4" r="0.6" fill="#fff"/>
<circle cx="308.7" cy="585.2" r="0.6" fill="#fff"/>
<circle cx="308.7" cy="587.1" r="0.6" fill="#fff"/>
<path d="M306.0,590.2 L311.4,590.2" stroke="#fff" stroke-width="0.92"/>
<path d="M307.1,593.0 L310.3,593.0" stroke="#fff" stroke-width="0.92"/>
<path d="M286.5,493 L288.5,492 L292,492 L295,493.5 L295,497.5 L292,498 L289,498.5 L286.5,497.5 Z" fill="#fff" stroke="#000" stroke-width="1.84"/>
<path d="M290.3,484.0 L290.3,492.0" class="s" stroke-width="1.26"/>
<path d="M290.6,498.0 L290.6,509.0" class="s" stroke-width="2.07"/>
<ellipse cx="373.7" cy="467.4" rx="4.5" ry="2.5" fill="#fff" stroke="#000" stroke-width="1.49"/>
<path d="M373.7,470.0 L373.7,486.0" class="s" />
<path d="M295,494 Q302,489 318.7,488.3 Q330,490 340,491 Q357,491 366,482 Q371,473 373,468" fill="none" stroke="#000" stroke-width="1.49"/>
<path d="M455.7,583.3 Q467,575 473.3,571.6 Q478,567 480.6,562.8 Q488,555 498.1,553.3 L504,552" fill="none" stroke="#000" stroke-width="1.72"/>
<path d="M464.5,587.7 Q468,580 471.8,577.4 Q480,573 490.8,572.3 Q502,569 511.3,565.7 L515,565" fill="none" stroke="#000" stroke-width="1.72"/>
<rect x="503" y="547.5" width="8" height="6.5" rx="1.5" transform="rotate(30 507 550.7)" fill="#fff" stroke="#000" stroke-width="1.72"/><ellipse cx="507.5" cy="551" rx="1.8" ry="1.3" fill="none" stroke="#000" stroke-width="1.15"/>
<rect x="514" y="561" width="8" height="6.5" rx="1.5" transform="rotate(30 518 564.2)" fill="#fff" stroke="#000" stroke-width="1.72"/><ellipse cx="518.5" cy="564.5" rx="1.8" ry="1.3" fill="none" stroke="#000" stroke-width="1.15"/>
<path d="M438.2,585.5 L449.1,580.3 L463.8,588.4 L463.8,599.4 L452.8,604.5 L438.2,595 Z" fill="#fff" stroke="#000" stroke-width="1.84"/>
<path d="M438.2,585.5 L452.8,593.5 L463.8,588.4" class="s" />
<path d="M452.8,593.5 L452.8,604.5" class="s" />
<rect x="440" y="590" width="2.5" height="6" fill="#000"/>
<rect x="444" y="592" width="2.5" height="6" fill="#000"/>
<rect x="448" y="594" width="2.5" height="6" fill="#000"/>
<path d="M596.7,162.3 L610,151.2 L648.8,212.3 L647.8,216.6 L628.6,239 L602,227 L602,219.3 L596.7,211.3 Z" fill="#fff" stroke="#000" stroke-width="1.95"/>
<path d="M596.7,162.3 L603.1,165.0 L605.2,163.4" class="s" />
<path d="M603.1,165.0 L603.1,208.1" class="s" stroke-width="1.95"/>
<path d="M607.3,161.3 L643.0,214.5 L648.8,212.3" class="s" stroke-width="1.95"/>
<path d="M643.0,214.5 L628.6,239.0" class="s" stroke-width="1.61"/>
<path d="M647.8,216.6 L635.0,233.6" class="s" stroke-width="1.38"/>
<path d="M605.4,173.4 L606.9,169.9 L610.4,170.9 L609.4,173.9Z" fill="none" stroke="#000" stroke-width="1.49"/>
<path d="M618.1,193.6 L619.6,190.1 L623.1,191.1 L622.1,194.1Z" fill="none" stroke="#000" stroke-width="1.49"/>
<path d="M630.4,212.2 L631.9,208.7 L635.4,209.7 L634.4,212.7Z" fill="none" stroke="#000" stroke-width="1.49"/>
<path d="M607.6,220 L610.1,203 L613.1,204 L611.6,221" fill="#fff" stroke="#000" stroke-width="1.84"/>
<path d="M614,223 L616.5,206 L619.5,207 L618,224" fill="#fff" stroke="#000" stroke-width="1.84"/>
<path d="M620.4,226 L622.9,209 L625.9,210 L624.4,227" fill="#fff" stroke="#000" stroke-width="1.84"/>
<path d="M602,219.3 L602,227 L613.7,232 L613.7,224 Z" fill="#fff" stroke="#000" stroke-width="1.84"/>
<path d="M613.7,226 L613.7,235 L626,237.3 L626,229 Z" fill="#fff" stroke="#000" stroke-width="1.84"/>
<path d="M600,217 L613,222 L630,227" fill="none" stroke="#000" stroke-width="2.53"/>
<path d="M649,215.6 L684,176" class="s" stroke-dasharray="3 3 12 4 6 4"/>
<path d="M685,172 L692,164 L697,168 L689,177 Q685,180 684,176Z" fill="#fff" stroke="#000" stroke-width="1.72"/>
<path d="M686.0,173.0 L690.0,175.0" class="s" stroke-width="1.15"/>
<path d="M690,160 L694,157.5 L698,159.5 L699,164 L695,167 L691,166 L689,163Z" fill="#000"/>
<circle cx="694" cy="162.3" r="1.5" fill="#fff"/>
<path d="M601,341.8 Q600,345 603,347 L624,359 Q627,361 631,359 L705,318 Q708,314 705,311 L684,297 Q680,295 676,297 L603,338 Z" fill="#fff" stroke="#000" stroke-width="1.72"/>
<path d="M601,345 Q600,350 604,353 L622,363 Q627,366 632,363 L705,322 Q709,318 706,314" fill="none" stroke="#000" stroke-width="1.49"/>
<path d="M609.4,336.3 L649.3,323.5 L630.1,353.8 M654,319.5 L701.1,313.1 M654,318.7 L678.8,296.4" fill="none" stroke="#000" stroke-width="1.61" stroke-dasharray="9 3 14 3"/>
<path d="M638,369 L695,344.7 L699,346 L699,504 L648,533.6 L641.7,532 L641.7,374 L638,374 Z" fill="#fff" stroke="#000" stroke-width="1.84"/>
<path d="M639,361 L696,336 L698,341 L641,366 Z" fill="#fff" stroke="#000" stroke-width="1.72"/>
<path d="M641.7,374.0 L698.0,348.0" class="s" />
<path d="M646.0,374.0 L646.0,533.0" class="s" />
<path d="M653.3,522 L653.3,401 Q654,385 660,379 L686.4,363.7 L692.5,368 L693,496.6 Z" fill="none" stroke="#000" stroke-width="1.72"/>
<path d="M653.0,402.0 L680.0,388.2 L680.0,482.5 L654.5,494.0" class="s" />
<path d="M680.0,388.2 L690.0,370.0" class="s" />
<path d="M680.0,482.5 L693.0,496.6" class="s" />
<path d="M654.5,494.0 L653.0,522.0" class="s" />
<rect x="646.5" y="385.0" width="4" height="7" fill="#fff" stroke="#000" stroke-width="1.49"/>
<rect x="646.5" y="399.5" width="4" height="7" fill="#fff" stroke="#000" stroke-width="1.49"/>
<rect x="646.5" y="414.0" width="4" height="7" fill="#fff" stroke="#000" stroke-width="1.49"/>
<rect x="646.5" y="428.5" width="4" height="7" fill="#fff" stroke="#000" stroke-width="1.49"/>
<rect x="646.5" y="443.0" width="4" height="7" fill="#fff" stroke="#000" stroke-width="1.49"/>
<rect x="646.5" y="457.5" width="4" height="7" fill="#fff" stroke="#000" stroke-width="1.49"/>
<rect x="646.5" y="472.0" width="4" height="7" fill="#fff" stroke="#000" stroke-width="1.49"/>
<rect x="646.5" y="486.5" width="4" height="7" fill="#fff" stroke="#000" stroke-width="1.49"/>
<rect x="646.5" y="501.0" width="4" height="7" fill="#fff" stroke="#000" stroke-width="1.49"/>
<rect x="694" y="355.0" width="4.5" height="7" fill="#fff" stroke="#000" stroke-width="1.72"/>
<rect x="695" y="369.5" width="4.5" height="7" fill="#fff" stroke="#000" stroke-width="1.72"/>
<rect x="694" y="384.0" width="4.5" height="7" fill="#fff" stroke="#000" stroke-width="1.72"/>
<rect x="695" y="398.5" width="4.5" height="7" fill="#fff" stroke="#000" stroke-width="1.72"/>
<rect x="694" y="413.0" width="4.5" height="7" fill="#fff" stroke="#000" stroke-width="1.72"/>
<rect x="695" y="427.5" width="4.5" height="7" fill="#fff" stroke="#000" stroke-width="1.72"/>
<rect x="694" y="442.0" width="4.5" height="7" fill="#fff" stroke="#000" stroke-width="1.72"/>
<rect x="695" y="456.5" width="4.5" height="7" fill="#fff" stroke="#000" stroke-width="1.72"/>
<rect x="694" y="471.0" width="4.5" height="7" fill="#fff" stroke="#000" stroke-width="1.72"/>
<path d="M638.0,402.0 L638.0,496.6" class="s" stroke-width="1.38"/>
<path d="M671.0,522.0 L671.0,533.6" class="s" />
<path d="M402.2,491.5 L404.6,488 L407,488 L408.8,491.5 L408.8,500.5 L410.8,501.5 L410.8,504.5 L409.5,507.7 L402,507.7 L400.2,504.5 L400.2,501.5 L402.2,500.5 Z" fill="#000"/>
<path d="M404.5,493 L405.5,491 L406.5,493Z" fill="#fff"/>
<circle cx="405.5" cy="495" r="0.6" fill="#fff"/><circle cx="405.5" cy="497" r="0.6" fill="#fff"/><circle cx="405.5" cy="499" r="0.6" fill="#fff"/>
<path d="M402.5,502.5 L408.5,502.5 M403.8,505.5 L407.2,505.5" stroke="#fff" stroke-width="0.92"/>
<path d="M228.6,803 Q229,800 232.6,799.5 L449.4,680.7 L637.8,791.2 L637.8,810.5 L635.8,812.5 L419.7,934 L231,825 Q228.6,823.5 228.6,821.9 Z" fill="#fff" stroke="#000" stroke-width="1.95"/>
<path d="M230.2,806.7 L417.3,914.9 L637.8,791.2" class="s" stroke-width="1.95"/>
<path d="M417.3,914.9 L419.7,934.0" class="s" stroke-width="1.72"/>
<path d="M244.2,805.9 L247.7,803.6999999999999 L251.2,805.9 L247.7,808.1Z" fill="#fff" stroke="#000" stroke-width="1.72"/>
<path d="M254.60000000000002,812.3 L258.1,810.0999999999999 L261.6,812.3 L258.1,814.5Z" fill="#fff" stroke="#000" stroke-width="1.72"/>
<path d="M272.9,823.5 L276.4,821.3 L279.9,823.5 L276.4,825.7Z" fill="#fff" stroke="#000" stroke-width="1.72"/>
<path d="M440.3,725.9 L443.8,723.6999999999999 L447.3,725.9 L443.8,728.1Z" fill="#fff" stroke="#000" stroke-width="1.72"/>
<path d="M403.8,747.4 L407.3,745.1999999999999 L410.8,747.4 L407.3,749.6Z" fill="#fff" stroke="#000" stroke-width="1.72"/>
<ellipse cx="247.7" cy="805.9" rx="1.5" ry="1" fill="#000"/>
<ellipse cx="276.4" cy="823.5" rx="1.5" ry="1" fill="#000"/>
<ellipse cx="449.3" cy="686.8" rx="3" ry="1.8" fill="#fff" stroke="#000" stroke-width="1.49"/>
<ellipse cx="467" cy="697" rx="3" ry="1.8" fill="#fff" stroke="#000" stroke-width="1.49"/>
<path d="M407.4,757.5 Q405,761 409,764 L427,774 Q431,776 435,774 L511,731 Q515,727 511,724 L492,712 Q488.4,710 485,712 L411,753 Q408,755 407.4,757.5Z" fill="#fff" stroke="#000" stroke-width="1.72"/>
<path d="M411.2,755.6 L487.5,713.8" class="s" />
<path d="M427.9,753.8 L481.9,721.2 L501.5,733.3 L451.2,763.1 L427.9,753.8" class="s" />
<path d="M450.0,762.0 L502.0,733.0" class="s" stroke-width="1.15"/>
<ellipse cx="478.2" cy="751.5" rx="2.5" ry="2" fill="#fff" stroke="#000" stroke-width="1.38"/>
<path d="M460.5,653.0 L460.5,747.3" class="s" stroke-dasharray="40 3 8 3"/>
<path d="M671,534 L461.3,653" class="s" stroke-dasharray="30 3 5 3"/>
<path d="M490.3,719.3 L490.3,689.5" class="s" />
<path d="M490.3,689.5 L518.0,673.0" class="s" stroke-dasharray="8 3 6 3"/>
<path d="M518.0,673.0 L518.0,663.7" class="s" />
<path d="M502.4,734.2 L502.4,697.0" class="s" />
<path d="M502.4,697.0 L539.2,677.0" class="s" stroke-dasharray="20 3"/>
<path d="M539.2,677.0 L539.2,659.7" class="s" />
<path d="M249.7,438.6 L249.7,803.0" class="s" stroke-dasharray="60 3 5 3"/>
<path d="M278.3,761.5 L278.3,821.0" class="s" stroke-dasharray="20 3 4 3"/>
<path d="M272.4,751 L276,745.6 L279,745.6 L287.3,750.9 L287.3,753.3 L281.9,756.3 L278.3,755.1 L274.1,759.9 L276,760.5 L280,755.5 Z" fill="#fff" stroke="#000" stroke-width="2.07" stroke-linejoin="round"/>
<path d="M275,751 L278.3,755.1" stroke="#000" stroke-width="1.84"/>
<path d="M280.1,751.8 L284.9,751.8" stroke="#000" stroke-width="2.07"/>
<path d="M507.7,654.8 L511.4,652.5 L524.5,653.9 L524.9,658.5 L517.9,663.2 L507.7,658.5 Z" fill="#fff" stroke="#000" stroke-width="1.84"/>
<path d="M497.4,646.4 L509.6,639 L517.9,639 L527.2,644.6 L527.2,648.3 L520.7,652 L514.2,650.1 L503,649.7 L497.4,647.8 Z" fill="#fff" stroke="#000" stroke-width="1.95"/>
<path d="M511,640 L511,645 L518,645 L514,650 M520,646 L516,655 L516,662" fill="none" stroke="#000" stroke-width="1.38"/>
<circle cx="500" cy="646.5" r="1" fill="#000"/>
<path d="M534.5,638 Q535,635.2 539.5,635.2 Q544.5,635.2 544.8,638 L544.8,643 L543,645 L543,653 L539.5,655.7 L536,653 L536,645 L534.5,643 Z" fill="#000"/>
<ellipse cx="539.5" cy="641" rx="2" ry="1.2" fill="#fff"/><circle cx="537.5" cy="637.5" r="0.8" fill="#fff"/><circle cx="541.5" cy="637.5" r="0.8" fill="#fff"/>
<path d="M538,647 L541,647 M538,650 L541,650" stroke="#fff" stroke-width="0.92"/>
<ellipse cx="395.2" cy="732" rx="10.4" ry="5.5" fill="#fff" stroke="#000" stroke-width="1.84"/>
<path d="M340.7,672.8 C341.7,698.8 360,690 386.5,731" fill="none" stroke="#fff" stroke-width="3.91"/>
<path d="M348.5,667.6 C349.5,693.6 364,690 388.1,731" fill="none" stroke="#fff" stroke-width="3.91"/>
<path d="M357.2,663.3 C358.2,689.3 368,690 389.7,731" fill="none" stroke="#fff" stroke-width="3.91"/>
<path d="M364.9,658.9 C365.9,684.9 372,690 391.3,731" fill="none" stroke="#fff" stroke-width="3.91"/>
<path d="M372.7,653.8 C373.7,679.8 376,690 392.9,731" fill="none" stroke="#fff" stroke-width="3.91"/>
<path d="M380.5,649.4 C381.5,675.4 380,690 394.5,731" fill="none" stroke="#fff" stroke-width="3.91"/>
<path d="M407.3,648.6 C407.3,684.6 398,690 396.5,731" fill="none" stroke="#fff" stroke-width="3.91"/>
<path d="M414.2,644.3 C414.2,680.3 400,690 398.1,731" fill="none" stroke="#fff" stroke-width="3.91"/>
<path d="M426.3,636.5 C426.3,672.5 402,690 399.7,731" fill="none" stroke="#fff" stroke-width="3.91"/>
<path d="M435,630.4 C435,666.4 404,690 401.3,731" fill="none" stroke="#fff" stroke-width="3.91"/>
<path d="M442.7,627.8 C442.7,663.8 406,690 402.9,731" fill="none" stroke="#fff" stroke-width="3.91"/>
<path d="M340.7,672.8 C341.7,698.8 360,690 386.5,731" fill="none" stroke="#000" stroke-width="1.26"/>
<path d="M348.5,667.6 C349.5,693.6 364,690 388.1,731" fill="none" stroke="#000" stroke-width="1.26"/>
<path d="M357.2,663.3 C358.2,689.3 368,690 389.7,731" fill="none" stroke="#000" stroke-width="1.26"/>
<path d="M364.9,658.9 C365.9,684.9 372,690 391.3,731" fill="none" stroke="#000" stroke-width="1.26"/>
<path d="M372.7,653.8 C373.7,679.8 376,690 392.9,731" fill="none" stroke="#000" stroke-width="1.26"/>
<path d="M380.5,649.4 C381.5,675.4 380,690 394.5,731" fill="none" stroke="#000" stroke-width="1.26"/>
<path d="M407.3,648.6 C407.3,684.6 398,690 396.5,731" fill="none" stroke="#000" stroke-width="1.26"/>
<path d="M414.2,644.3 C414.2,680.3 400,690 398.1,731" fill="none" stroke="#000" stroke-width="1.26"/>
<path d="M426.3,636.5 C426.3,672.5 402,690 399.7,731" fill="none" stroke="#000" stroke-width="1.26"/>
<path d="M435,630.4 C435,666.4 404,690 401.3,731" fill="none" stroke="#000" stroke-width="1.26"/>
<path d="M442.7,627.8 C442.7,663.8 406,690 402.9,731" fill="none" stroke="#000" stroke-width="1.26"/>
<path d="M338.3,666.3 L343.09999999999997,663.8 L343.09999999999997,671.3 L338.3,673.8Z" fill="#fff" stroke="#000" stroke-width="1.61"/>
<path d="M346.1,661.1 L350.9,658.6 L350.9,666.1 L346.1,668.6Z" fill="#fff" stroke="#000" stroke-width="1.61"/>
<path d="M354.8,656.8 L359.59999999999997,654.3 L359.59999999999997,661.8 L354.8,664.3Z" fill="#fff" stroke="#000" stroke-width="1.61"/>
<path d="M362.5,652.4 L367.29999999999995,649.9 L367.29999999999995,657.4 L362.5,659.9Z" fill="#fff" stroke="#000" stroke-width="1.61"/>
<path d="M370.3,647.3 L375.09999999999997,644.8 L375.09999999999997,652.3 L370.3,654.8Z" fill="#fff" stroke="#000" stroke-width="1.61"/>
<path d="M378.1,642.9 L382.9,640.4 L382.9,647.9 L378.1,650.4Z" fill="#fff" stroke="#000" stroke-width="1.61"/>
<path d="M404.90000000000003,642.1 L409.7,639.6 L409.7,647.1 L404.90000000000003,649.6Z" fill="#fff" stroke="#000" stroke-width="1.61"/>
<path d="M411.8,637.8 L416.59999999999997,635.3 L416.59999999999997,642.8 L411.8,645.3Z" fill="#fff" stroke="#000" stroke-width="1.61"/>
<path d="M423.90000000000003,630.0 L428.7,627.5 L428.7,635.0 L423.90000000000003,637.5Z" fill="#fff" stroke="#000" stroke-width="1.61"/>
<path d="M432.6,623.9 L437.4,621.4 L437.4,628.9 L432.6,631.4Z" fill="#fff" stroke="#000" stroke-width="1.61"/>
<path d="M440.3,621.3 L445.09999999999997,618.8 L445.09999999999997,626.3 L440.3,628.8Z" fill="#fff" stroke="#000" stroke-width="1.61"/>
<path d="M337.7,689.5 Q359.7,683.5 372,700" fill="none" stroke="#fff" stroke-width="3.45"/>
<path d="M337.7,689.5 Q359.7,683.5 372,700" fill="none" stroke="#000" stroke-width="1.38"/>
<path d="M330.7,689.5 L334.7,687.0 L338.7,689.5 L334.7,692.0Z" fill="#fff" stroke="#000" stroke-width="1.49"/>
<path d="M334.2,700.8 Q356.2,694.8 374,706" fill="none" stroke="#fff" stroke-width="3.45"/>
<path d="M334.2,700.8 Q356.2,694.8 374,706" fill="none" stroke="#000" stroke-width="1.38"/>
<path d="M327.2,700.8 L331.2,698.3 L335.2,700.8 L331.2,703.3Z" fill="#fff" stroke="#000" stroke-width="1.49"/>
<path d="M341.2,704.2 Q363.2,698.2 376,710" fill="none" stroke="#fff" stroke-width="3.45"/>
<path d="M341.2,704.2 Q363.2,698.2 376,710" fill="none" stroke="#000" stroke-width="1.38"/>
<path d="M334.2,704.2 L338.2,701.7 L342.2,704.2 L338.2,706.7Z" fill="#fff" stroke="#000" stroke-width="1.49"/>
<path d="M342,713.7 Q364,707.7 378,714" fill="none" stroke="#fff" stroke-width="3.45"/>
<path d="M342,713.7 Q364,707.7 378,714" fill="none" stroke="#000" stroke-width="1.38"/>
<path d="M335,713.7 L339,711.2 L343,713.7 L339,716.2Z" fill="#fff" stroke="#000" stroke-width="1.49"/>
<path d="M386,727 Q370,725 360,728 Q352,732 346,734" fill="none" stroke="#000" stroke-width="2.88"/>
<path d="M386,727 Q370,725 360,728 Q352,732 346,734" fill="none" stroke="#fff" stroke-width="0.92"/>
<path d="M342,734 L346,731 L349,735 L345,738Z" fill="#fff" stroke="#000" stroke-width="1.49"/>
<path d="M342.5,750 L357,741 L360.6,737.9 L360.6,744 L346,753.5 Z" fill="#fff" stroke="#000" stroke-width="1.72"/>
<path d="M357.0,741.0 L357.0,734.0" class="s" />
<path d="M342.4,793.9 C342.6,792.8 342.4,788.8 343.6,787.1 C344.7,785.4 343.9,784.5 349.2,783.7 C354.5,783.0 368.6,783.5 375.2,782.6 C381.8,781.7 384.3,779.5 388.8,778.1 C393.3,776.7 397.8,774.8 402.3,774.0 C406.9,773.3 411.4,772.7 415.9,773.6 C420.4,774.4 424.2,777.0 429.5,779.2 C434.7,781.5 443.2,784.9 447.6,787.1 C451.9,789.4 453.6,790.3 455.5,792.8 C457.4,795.2 457.2,798.6 458.9,801.8 C460.6,805.0 460.7,808.4 465.6,812.0 C470.5,815.6 483.3,819.9 488.2,823.3 C493.1,826.7 494.3,829.5 495.0,832.3 C495.8,835.2 494.7,838.2 492.8,840.3 C490.9,842.3 488.2,842.7 483.7,844.8 C479.2,846.8 470.2,851.0 465.6,852.7 C461.1,854.4 461.5,852.7 456.6,854.9 C451.7,857.2 441.5,863.2 436.3,866.3 C431.0,869.3 428.7,871.7 424.9,873.0 C421.2,874.4 417.4,875.3 413.6,874.2 C409.9,873.0 406.1,869.5 402.3,866.3 C398.6,863.0 395.2,858.7 391.0,854.9 C386.9,851.2 381.6,847.4 377.5,843.6 C373.3,839.9 369.0,836.1 366.2,832.3 C363.3,828.6 362.0,825.2 360.5,821.0 C359.0,816.9 358.6,811.1 357.1,807.5 C355.6,803.9 353.9,801.8 351.5,799.6 C349.0,797.3 343.9,794.9 342.4,793.9Z" fill="#fff" stroke="#000" stroke-width="1.72"/>
<path d="M345.4,793.9 C346.2,792.7 345.4,788.0 350.3,786.4 C355.3,784.9 368.6,785.8 375.2,784.9 C381.8,783.9 385.0,782.2 389.9,780.8 C394.8,779.4 400.1,777.0 404.6,776.3 C409.1,775.5 412.9,775.4 417.0,776.3 C421.2,777.1 424.4,779.2 429.5,781.5 C434.6,783.7 443.6,787.5 447.6,789.8 C451.5,792.2 451.6,793.0 453.2,795.7 C454.8,798.5 455.4,803.1 457.0,806.3 C458.7,809.6 462.3,813.9 463.4,815.4" fill="none" stroke="#000" stroke-width="1.26"/>
<path d="M396.0,779.2 C396.8,781.7 397.0,789.0 400.5,793.9 C404.0,798.8 411.4,804.6 417.0,808.6 C422.7,812.6 430.1,814.4 434.4,817.6 C438.8,820.8 441.2,824.2 443.0,827.8 C444.8,831.4 446.5,836.3 445.3,839.1 C444.1,841.9 439.9,843.6 435.8,844.8 C431.7,846.0 423.0,846.1 420.4,846.4" fill="none" stroke="#000" stroke-width="1.26"/>
<path d="M397.8,779.2 C398.6,781.7 398.8,789.1 402.3,793.9 C405.8,798.7 413.2,804.3 418.8,808.1 C424.5,811.9 431.9,813.4 436.3,816.7 C440.6,820.0 443.0,824.1 444.8,827.8 C446.6,831.5 448.5,836.0 447.1,839.1 C445.7,842.3 441.0,845.1 436.5,846.6 C432.1,848.1 423.1,847.9 420.4,848.2" fill="none" stroke="#000" stroke-width="1.26"/>
<path d="M399.6,779.2 C400.4,781.7 400.6,789.2 404.1,793.9 C407.7,798.6 415.0,803.9 420.7,807.5 C426.3,811.2 433.7,812.5 438.1,815.8 C442.4,819.2 444.8,823.9 446.6,827.8 C448.5,831.7 450.5,835.7 448.9,839.1 C447.3,842.6 442.0,846.6 437.2,848.4 C432.5,850.2 423.2,849.7 420.4,850.0" fill="none" stroke="#000" stroke-width="1.26"/>
<path d="M401.4,779.2 C402.2,781.7 402.5,789.3 406.0,793.9 C409.5,798.5 416.8,803.5 422.5,807.0 C428.1,810.5 435.5,811.5 439.9,814.9 C444.2,818.4 446.6,823.8 448.5,827.8 C450.3,831.9 452.5,835.4 450.7,839.1 C449.0,842.9 443.0,848.1 438.0,850.2 C432.9,852.3 423.3,851.5 420.4,851.8" fill="none" stroke="#000" stroke-width="1.26"/>
<path d="M393.3,782.6 C390.3,783.7 381.4,787.3 375.2,789.4 C369.0,791.5 359.2,794.1 356.0,795.0" fill="none" stroke="#000" stroke-width="1.26"/>
<path d="M395.6,782.6 C393.7,784.5 389.2,790.5 384.3,793.9 C379.4,797.3 369.2,801.4 366.2,803.0" fill="none" stroke="#000" stroke-width="1.26"/>
<path d="M402.3,798.4 C401.2,799.9 398.8,804.5 395.6,807.5 C392.4,810.5 385.2,815.0 383.1,816.5" fill="none" stroke="#000" stroke-width="1.26"/>
<path d="M404.6,803.0 C403.5,804.5 398.8,809.0 397.8,812.0 C396.9,815.0 398.8,819.5 398.9,821.0" fill="none" stroke="#000" stroke-width="1.26"/>
<path d="M409.1,796.2 C411.0,798.8 418.9,807.1 420.4,812.0 C421.9,816.9 418.5,823.3 418.2,825.6" fill="none" stroke="#000" stroke-width="1.26"/>
<path d="M415.9,838.0 L405.7,833.5" fill="none" stroke="#000" stroke-width="1.26"/>
<path d="M438.5,841.4 C433.6,841.5 416.5,841.2 409.1,841.8 C401.8,842.5 396.9,844.8 394.4,845.5" fill="none" stroke="#000" stroke-width="1.26"/>
<path d="M440.8,843.6 C437.4,844.1 427.2,844.9 420.4,846.4 C413.6,847.8 403.5,851.3 400.1,852.2" fill="none" stroke="#000" stroke-width="1.26"/>
<path d="M443.0,845.9 C440.0,847.0 431.1,850.0 424.9,852.7 C418.8,855.3 409.5,860.2 406.4,861.7" fill="none" stroke="#000" stroke-width="1.26"/>
<path d="M445.3,848.2 C443.0,850.0 436.3,855.9 431.7,859.5 C427.2,863.0 420.4,867.9 418.2,869.6" fill="none" stroke="#000" stroke-width="1.26"/>
<path d="M443.0,805.2 C444.5,809.0 448.9,820.5 452.1,827.8 C455.3,835.2 460.6,845.7 462.2,849.3" fill="none" stroke="#000" stroke-width="1.26"/>
<path d="M438.5,796.2 C443.0,799.9 458.1,812.7 465.6,818.8 C473.2,824.8 480.7,830.1 483.7,832.3" fill="none" stroke="#000" stroke-width="1.26"/>
<rect x="353.0" y="792.2" width="6" height="5.6" transform="rotate(25 356.0 795.0)" fill="#fff" stroke="#000" stroke-width="1.49"/>
<rect x="363.2" y="800.2" width="6" height="5.6" transform="rotate(25 366.2 803.0)" fill="#fff" stroke="#000" stroke-width="1.49"/>
<rect x="380.1" y="813.7" width="6" height="5.6" transform="rotate(25 383.1 816.5)" fill="#fff" stroke="#000" stroke-width="1.49"/>
<rect x="395.9" y="818.2" width="6" height="5.6" transform="rotate(25 398.9 821.0)" fill="#fff" stroke="#000" stroke-width="1.49"/>
<rect x="415.2" y="822.8" width="6" height="5.6" transform="rotate(25 418.2 825.6)" fill="#fff" stroke="#000" stroke-width="1.49"/>
<rect x="402.7" y="830.7" width="6" height="5.6" transform="rotate(25 405.7 833.5)" fill="#fff" stroke="#000" stroke-width="1.49"/>
<rect x="391.4" y="842.7" width="6" height="5.6" transform="rotate(25 394.4 845.5)" fill="#fff" stroke="#000" stroke-width="1.49"/>
<rect x="397.1" y="849.4" width="6" height="5.6" transform="rotate(25 400.1 852.2)" fill="#fff" stroke="#000" stroke-width="1.49"/>
<rect x="403.4" y="858.9" width="6" height="5.6" transform="rotate(25 406.4 861.7)" fill="#fff" stroke="#000" stroke-width="1.49"/>
<rect x="415.2" y="866.8" width="6" height="5.6" transform="rotate(25 418.2 869.6)" fill="#fff" stroke="#000" stroke-width="1.49"/>
<rect x="459.2" y="846.5" width="6" height="5.6" transform="rotate(25 462.2 849.3)" fill="#fff" stroke="#000" stroke-width="1.49"/>
<rect x="480.7" y="829.5" width="6" height="5.6" transform="rotate(25 483.7 832.3)" fill="#fff" stroke="#000" stroke-width="1.49"/>
<path d="M136.1,686.8 L147.4,680.2 L162.4,689.7 L162.4,698.7 L151.6,705.3 L136.1,695.7 Z" fill="#fff" stroke="#000" stroke-width="1.72"/>
<path d="M136.1,686.8 L151.0,695.7 L162.4,689.7" class="s" />
<path d="M151.0,695.7 L151.6,705.3" class="s" />
<path d="M151.3,700.5 L162.4,694.0" class="s" />
<path d="M144,684 L150,681 L155,684 L149,687Z" fill="none" stroke="#000" stroke-width="1.38"/>
<rect x="138" y="690" width="2" height="3.5" fill="#000"/>
<rect x="142" y="697" width="2" height="3.5" fill="#000"/>
<rect x="146" y="694" width="2" height="3.5" fill="#000"/>
<rect x="148" y="701" width="2" height="3.5" fill="#000"/>
<path d="M123.4,758.2 L127,760.5 L135,754.5 L140,756.5 L141.5,761 L136.5,763.5 L141,765.5 L150.5,759.5 L153.5,761.5 L147,766.5 L151,768.5 L155,765.5 L160.5,769 L159.7,774.5 L154.9,778.5 L154.9,783.3 L144.5,783.3 L123.4,771.3 Z" fill="#fff" stroke="#000" stroke-width="1.84"/>
<path d="M123.4,760.5 L145.0,772.5 L159.5,768.0" class="s" stroke-width="1.72"/>
<path d="M145.0,772.5 L144.5,783.3" class="s" stroke-width="1.72"/>
<line x1="127.3" y1="763.7" x2="127.3" y2="773.7" stroke="#000" stroke-width="1.72"/>
<line x1="131.8" y1="766.2" x2="131.8" y2="776.2" stroke="#000" stroke-width="1.72"/>
<line x1="136.5" y1="768.8" x2="136.5" y2="778.8" stroke="#000" stroke-width="1.72"/>
<line x1="141" y1="771.3" x2="141" y2="781.3" stroke="#000" stroke-width="1.72"/>
<path d="M132,762 L139,758 M141,768 L148,764" fill="none" stroke="#000" stroke-width="1.49"/>
<path d="M146,777 L146,782 L154,782 L154,777" fill="none" stroke="#000" stroke-width="1.38"/>
<path d="M96,814.5 L111,807.4 L124.7,798.4 L136.1,804.4 L157,816 L164.2,820.5 L172.6,825.9 L172.6,835.5 L143.9,852.2 L133.7,846.2 L133.7,838 L112.1,826 L106.8,830.1 L96.6,824.7 Z" fill="#fff" stroke="#000" stroke-width="1.84"/>
<path d="M111.0,807.4 L112.1,826.0" class="s" stroke-width="1.72"/>
<path d="M112.1,808.5 L142.7,824.7 L157.0,816.0" class="s" stroke-width="1.72"/>
<path d="M142.7,824.7 L142.7,832.5" class="s" />
<path d="M133.7,838.0 L164.2,820.5" class="s" stroke-width="1.61"/>
<path d="M143.9,844.0 L172.6,826.0" class="s" stroke-width="1.72"/>
<path d="M143.9,844.0 L143.9,852.2" class="s" stroke-width="1.72"/>
<path d="M118.0,803.0 L130.0,809.5 L136.1,804.4" class="s" />
<path d="M130.0,809.5 L130.0,813.0" class="s" />
<path d="M97.5,816 L104,812.5 L104,826 L97.5,823Z" fill="#000"/>
<path d="M101,817 L103,816 L103,821" stroke="#fff" stroke-width="1.15"/>
<path d="M113,826 L133.7,838 L133.7,833 L113,821Z" fill="#000"/>
<path d="M119,826 L119,831 M124,829 L124,834" stroke="#fff" stroke-width="1.15"/>
<path d="M149,836 L166,826.5" stroke="#000" stroke-width="2.53"/>
<path d="M136,840 L136,846 M139,842 L139,848" stroke="#000" stroke-width="1.61"/>
<path d="M134.3,884.1 L149.5,877.2 L158.5,878 L158.5,881.4 L151,885 L153.2,891.3 L158.5,889.7 L158.5,892.3 L152.7,895.5 L145.7,894.5 L134.3,890.5 Z" fill="#fff" stroke="#000" stroke-width="2.53" stroke-linejoin="round"/>
<path d="M138.8,890.2 L146.3,887 L153.2,891.3 L145.7,894.5 Z" fill="#fff" stroke="#000" stroke-width="1.84"/>
<path d="M136.0,885.0 L149.0,879.0 L156.0,880.0" class="s" stroke-width="1.38"/>
<path d="M139.4,898.2 L142,896.6 L145.7,894.5 L149,897 L155.3,898.2 L155.3,899.8 L145.2,911.5 L142.6,911 Z" fill="#fff" stroke="#000" stroke-width="2.30" stroke-linejoin="round"/>
<path d="M145.0,897.0 L145.0,906.0" class="s" stroke-width="1.38"/>
<path d="M146.5,908 L153,901" stroke="#000" stroke-width="1.84"/>
<rect x="746" y="0" width="2.2" height="1.6" fill="#000"/><rect x="0" y="1030.8" width="2" height="1.2" fill="#000"/></svg>
</body></html>
